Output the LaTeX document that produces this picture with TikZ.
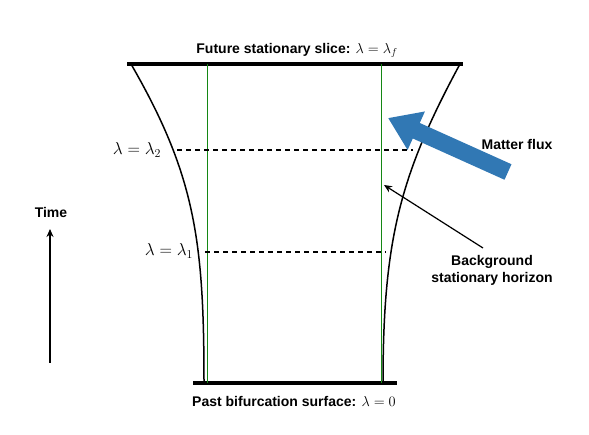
\documentclass[tikz,border=0pt]{standalone}
\usepackage{fontspec}
\setmainfont{Liberation Sans}
\usetikzlibrary{arrows.meta}
\definecolor{hgreen}{RGB}{20,135,20}
\definecolor{fluxblue}{RGB}{49,120,180}
\begin{document}
\begin{tikzpicture}[x=1pt,y=-1pt,
  lbl/.style={font=\fontsize{14}{16}\selectfont\bfseries, inner sep=0pt},
  mlbl/.style={font=\fontsize{17}{20}\selectfont, inner sep=0pt},
  bar/.style={line width=4pt},
  surf/.style={line width=1.5pt},
  horiz/.style={hgreen, line width=1pt},
  slice/.style={line width=2pt, dash pattern=on 5pt off 4pt},
  ptr/.style={line width=1.2pt, -{Stealth[length=8pt,width=7pt]}}]
\useasboundingbox (0,0) rectangle (589,435);
% bars
\coordinate (TL) at (127,64); \coordinate (TR) at (463,64);
\coordinate (BL) at (193,383); \coordinate (BR) at (397,383);
\draw[bar] (TL) -- (TR);
\draw[bar] (BL) -- (BR);
% green horizon lines
\coordinate (G1t) at (207,64); \coordinate (G1b) at (207,383);
\coordinate (G2t) at (381,64); \coordinate (G2b) at (381,383);
\draw[horiz] (G1t) -- (G1b);
\draw[horiz] (G2t) -- (G2b);
% curved boundaries
\coordinate (L0) at (131,64); \coordinate (L3) at (204,383);
\coordinate (R0) at (460,64); \coordinate (R3) at (383,383);
\draw[surf] (L0) .. controls (195,175) and (204,240) .. (L3);
\draw[surf] (R0) .. controls (400,175) and (383,240) .. (R3);
% slices
\coordinate (S2a) at (177,150); \coordinate (S2b) at (413,150);
\coordinate (S1a) at (205,252); \coordinate (S1b) at (386,252);
\draw[slice] (S2a) -- (S2b);
\draw[slice] (S1a) -- (S1b);
\node[mlbl] (l2) at (137,150) {$\lambda=\lambda_2$};
\node[mlbl] (l1) at (169,251) {$\lambda=\lambda_1$};
% labels
\node[lbl] (top) at (297,50) {Future stationary slice: {\mdseries$\lambda=\lambda_f$}};
\node[lbl] (bot) at (294,401) {Past bifurcation surface: {\mdseries$\lambda=0$}};
% time
\node[lbl] (time) at (51,212) {Time};
\coordinate (T0) at (50,363); \coordinate (T1) at (50,229);
\draw[ptr] (T0) -- (T1);
% matter flux
\coordinate (F0) at (508,172); \coordinate (F1) at (388,118);
\draw[fluxblue, line width=17pt, -{Triangle[length=31pt,width=40pt]}] (F0) -- (F1);
\node[lbl] (flux) at (517,144) {Matter flux};
% background horizon
\node[lbl, align=center] (bg) at (492,270) {Background\\[1pt]stationary horizon};
\coordinate (H0) at (483,248); \coordinate (H1) at (384,185);
\draw[ptr] (H0) -- (H1);
\end{tikzpicture}
\end{document}
